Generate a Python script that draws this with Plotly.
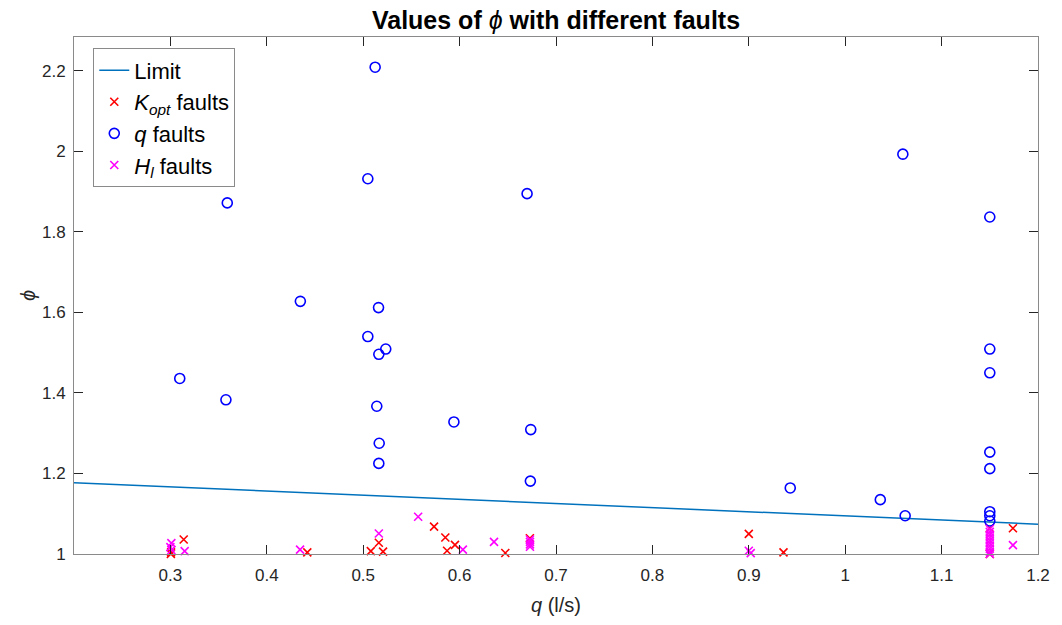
import plotly.graph_objects as go

# Limit line
limit_q = [0.2, 1.2]
limit_phi = [1.177, 1.074]

# K_opt faults (red x)
kopt_q = [0.3138, 0.3007, 0.3005, 0.442, 0.5079, 0.5162, 0.5206, 0.5735, 0.5852, 0.5952,
          0.587, 0.6474, 0.6729, 0.900, 0.936, 1.15, 1.15, 1.174]
kopt_phi = [1.036, 1.004, 1.000, 1.004, 1.007, 1.028, 1.006, 1.068, 1.041, 1.0225,
            1.008, 1.0025, 1.039, 1.050, 1.004, 1.064, 1.000, 1.064]

# q faults (blue circles)
q_q = [0.5124, 0.5048, 0.359, 0.4348, 0.5159, 0.5048, 0.5234, 0.5162, 0.3097, 0.3576,
       0.5141, 0.5166, 0.5162, 0.670, 0.5941, 0.6738, 0.6734, 1.0598, 1.15, 1.15,
       1.15, 1.15, 0.943, 1.0364, 1.0622, 1.15, 1.15, 1.15, 1.15]
q_phi = [2.209, 1.932, 1.872, 1.6275, 1.612, 1.540, 1.509, 1.496, 1.436, 1.383,
         1.367, 1.275, 1.225, 1.895, 1.328, 1.309, 1.181, 1.993, 1.837, 1.509,
         1.450, 1.253, 1.164, 1.135, 1.095, 1.212, 1.105, 1.095, 1.082]

# H_l faults (magenta x)
hl_q = [0.301, 0.300, 0.3148, 0.301, 0.4345, 0.5162, 0.557, 0.6034, 0.6357, 0.673,
        0.673, 0.673, 0.673, 0.900, 0.902, 1.174,
        1.15, 1.15, 1.15, 1.15, 1.15, 1.15, 1.15, 1.15, 1.15, 1.15]
hl_phi = [1.027, 1.017, 1.007, 1.010, 1.011, 1.051, 1.0925, 1.011, 1.030, 1.036,
          1.030, 1.024, 1.018, 1.008, 1.002, 1.022,
          1.000, 1.006, 1.013, 1.020, 1.027, 1.034, 1.041, 1.048, 1.055, 1.062]

x_ticks = [0.3, 0.4, 0.5, 0.6, 0.7, 0.8, 0.9, 1.0, 1.1, 1.2]
x_ticktext = ["0.3", "0.4", "0.5", "0.6", "0.7", "0.8", "0.9", "1", "1.1", "1.2"]
y_ticks = [1.0, 1.2, 1.4, 1.6, 1.8, 2.0, 2.2]
y_ticktext = ["1", "1.2", "1.4", "1.6", "1.8", "2", "2.2"]

FONT = "Liberation Sans, Arial, Helvetica, sans-serif"

fig = go.Figure()
fig.add_trace(go.Scatter(x=limit_q, y=limit_phi, mode="lines", name="Limit",
                         line=dict(color="#0072BD", width=1.5)))
fig.add_trace(go.Scatter(x=kopt_q, y=kopt_phi, mode="markers",
                         name="<i>K<sub>opt</sub></i> faults", cliponaxis=False,
                         marker=dict(symbol="x-thin", size=8, color="#FF0000",
                                     line=dict(color="#FF0000", width=1.6))))
fig.add_trace(go.Scatter(x=q_q, y=q_phi, mode="markers",
                         name="<i>q</i> faults", cliponaxis=False,
                         marker=dict(symbol="circle-open", size=10, color="#0000FF",
                                     line=dict(color="#0000FF", width=1.6))))
fig.add_trace(go.Scatter(x=hl_q, y=hl_phi, mode="markers",
                         name="<i>H<sub>l</sub></i> faults", cliponaxis=False,
                         marker=dict(symbol="x-thin", size=8, color="#FF00FF",
                                     line=dict(color="#FF00FF", width=1.6))))

axis_common = dict(showgrid=False, zeroline=False, showline=True, mirror="allticks",
                   linecolor="#8a8a8a", linewidth=1, ticks="inside", ticklen=9,
                   tickcolor="#262626", tickwidth=1,
                   tickfont=dict(family=FONT, size=17, color="#262626"))

fig.update_layout(
    width=1062, height=625,
    margin=dict(l=74, r=20, t=37, b=71),
    paper_bgcolor="white", plot_bgcolor="white",
    font=dict(family=FONT, color="#262626"),
    title=dict(text="<b>Values of </b><i>ϕ</i><b> with different faults</b>",
               x=0.5, xanchor="center", xref="paper", y=0.968, yanchor="middle",
               font=dict(family=FONT, size=25, color="black")),
    xaxis=dict(range=[0.2, 1.2], tickvals=x_ticks, ticktext=x_ticktext,
               ticklabelstandoff=6,
               title=dict(text="<i>q</i> (l/s)", font=dict(family=FONT, size=20, color="#262626"),
                          standoff=13),
               **axis_common),
    yaxis=dict(range=[1.0, 2.284], tickvals=y_ticks, ticktext=y_ticktext,
               ticklabelstandoff=4,
               title=dict(text="<i>ϕ</i>", font=dict(family=FONT, size=20, color="#262626"),
                          standoff=0),
               **axis_common),
    legend=dict(x=0.02, y=0.978, xanchor="left", yanchor="top",
                bgcolor="white", bordercolor="#8a8a8a", borderwidth=1,
                font=dict(family=FONT, size=22, color="black"),
                tracegroupgap=0, itemwidth=30),
    showlegend=True,
)

fig.write_html("out.html")
